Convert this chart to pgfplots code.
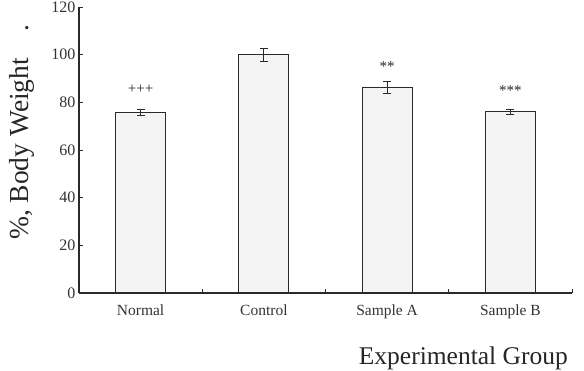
\documentclass[border=0pt]{standalone}
\usepackage{pgfplots}
\pgfplotsset{compat=1.18}
\usepackage{fontspec}
\setmainfont{Liberation Serif}
\definecolor{barfill}{HTML}{F4F4F4}
\definecolor{edge}{HTML}{2A2A2A}
\begin{document}
\begin{tikzpicture}[x=1pt,y=1pt]
\begin{axis}[
  at={(79pt,77pt)}, anchor=south west,
  width=493pt, height=286pt, scale only axis,
  xmin=-0.5, xmax=3.5, ymin=0, ymax=120,
  axis x line*=bottom, axis y line*=left,
  axis line style={edge, line width=1.1pt, -},
  /pgf/number format/assume math mode=true,
  xtick={0,1,2,3},
  xticklabels={Normal,Control,Sample A,Sample B},
  major x tick style={draw=none},
  minor xtick={0.5,1.5,2.5,3.5},
  minor tick length=4pt,
  minor x tick style={edge, line width=0.8pt},
  xticklabel style={font=\fontsize{15.5}{17}\selectfont, yshift=-8pt, text=black!80},
  ytick={0,20,...,120},
  yticklabel style={font=\fontsize{16}{18}\selectfont, text=black!80},
  tick align=inside,
  major tick length=4pt,
  major y tick style={edge, line width=0.8pt},
  clip=false,
]
\addplot[ybar, bar width=50pt, fill=barfill, draw=edge, line width=1.2pt,
  error bars/.cd, y dir=both, y explicit,
  error bar style={edge, line width=1.1pt}, error mark options={edge, line width=1.1pt, mark size=4pt, rotate=90}]
  table[x=x, y=y, y error=e] {
  x y e
  0 75.8 1.2
  1 100.0 2.7
  2 86.2 2.6
  3 76.0 1.0
};
\node[font=\fontsize{15}{17}\selectfont, text=black!85] at (axis cs:0,85.5) {+++};
\node[font=\fontsize{15}{17}\selectfont, text=black!85] at (axis cs:2,94.8) {**};
\node[font=\fontsize{15}{17}\selectfont, text=black!85] at (axis cs:3,84.8) {***};
\end{axis}
% axis titles
\node[rotate=90, anchor=base west, inner sep=0pt, font=\fontsize{27.5}{30}\selectfont, text=black!85] at (28,130) {\%, Body Weight\hspace{26pt}.};
\node[anchor=base east, inner sep=0pt, font=\fontsize{25.5}{28}\selectfont, text=black!85] at (568,6) {Experimental Group};
\pgfresetboundingbox
\useasboundingbox (0,0) rectangle (584,370);
\end{tikzpicture}
\end{document}
